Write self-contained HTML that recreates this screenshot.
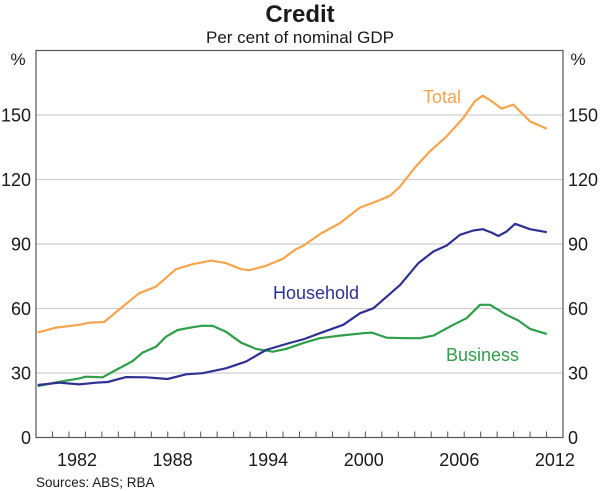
<!DOCTYPE html>
<html><head><meta charset="utf-8"><style>
body{margin:0;background:#fff;}
svg{display:block;font-family:"Liberation Sans",Arial,sans-serif;}
</style></head><body>
<svg id="chart" width="600" height="491" viewBox="0 0 600 491">
<text x="300" y="22" text-anchor="middle" font-size="24" font-weight="bold" fill="#1a1a1a">Credit</text>
<text x="300" y="43" text-anchor="middle" font-size="17" fill="#1a1a1a">Per cent of nominal GDP</text>
<g id="grid"></g>
<g id="series"></g>
<rect x="36" y="50.5" width="527" height="387" fill="none" stroke="#555" stroke-width="1.2"/>
<g id="axes"></g>
<text x="18" y="65" text-anchor="middle" font-size="17" fill="#1a1a1a">%</text>
<text x="578" y="65" text-anchor="middle" font-size="17" fill="#1a1a1a">%</text>
<text x="423" y="103" font-size="18" fill="#F7A44C">Total</text>
<text x="273" y="299" font-size="18" fill="#2E3192">Household</text>
<text x="446" y="361" font-size="18" fill="#2E9E48">Business</text>
<text x="36" y="487" font-size="13.5" fill="#1a1a1a">Sources: ABS; RBA</text>
</svg>
<script>
const yTicks=[0,30,60,90,120,150];
const xLabels=[1982,1988,1994,2000,2006,2012];
const totalYears=[1979.53,1980.68,1982.14,1982.77,1983.71,1984.87,1985.91,1986.96,1988.21,1989.26,1990.41,1991.35,1992.30,1992.82,1993.86,1994.91,1995.75,1996.27,1997.25,1998.51,1999.77,2000.81,2001.65,2002.28,2003.22,2004.16,2005.21,2006.25,2006.98,2007.47,2008.03,2008.66,2009.39,2009.81,2010.44,2011.49];
const totalVals=[48.8,51.1,52.4,53.4,53.7,60.9,67.1,70.2,78.3,80.6,82.3,81.1,78.3,77.8,79.8,83.1,87.6,89.5,94.6,99.7,107.0,109.8,112.4,116.8,125.6,133.1,140.1,148.6,156.4,159.0,156.4,153.0,154.8,151.7,147.0,143.6];
const houseYears=[1979.53,1980.89,1982.14,1983.19,1983.93,1985.08,1986.33,1987.69,1988.84,1989.89,1991.35,1992.61,1993.86,1995.12,1996.27,1997.25,1998.72,1999.77,2000.60,2001.44,2002.28,2003.43,2004.37,2005.21,2006.04,2006.88,2007.47,2008.03,2008.45,2008.97,2009.50,2010.44,2011.49];
const houseVals=[24.4,25.5,24.7,25.5,25.8,28.1,28.0,27.2,29.4,29.9,32.2,35.3,40.7,43.5,45.8,48.5,52.4,57.8,60.1,65.5,71.0,81.1,86.5,89.3,94.3,96.3,96.9,95.3,93.7,95.8,99.4,96.9,95.5];
const busYears=[1979.53,1980.89,1982.14,1982.56,1983.61,1984.45,1985.50,1986.12,1986.96,1987.59,1988.32,1989.26,1989.89,1990.52,1991.35,1992.30,1993.24,1994.29,1995.12,1996.27,1997.25,1998.51,1999.97,2000.50,2001.44,2002.70,2003.53,2004.37,2005.62,2006.46,2007.30,2007.93,2008.97,2009.70,2010.44,2011.49];
const busVals=[23.9,25.9,27.5,28.3,28.0,31.4,35.6,39.5,42.2,46.9,50.0,51.3,52.0,51.9,49.2,44.1,41.2,39.9,41.2,44.1,46.2,47.4,48.5,48.8,46.4,46.2,46.2,47.4,52.4,55.5,61.7,61.7,57.0,54.4,50.5,48.2];
const NS='http://www.w3.org/2000/svg';
function xs(t){return 77+(t-1982)*15.93;}
function ys(v){return 437.5-v*(387/180);}
function mk(tag,attrs,parent){const e=document.createElementNS(NS,tag);for(const k in attrs)e.setAttribute(k,attrs[k]);parent.appendChild(e);return e;}
const grid=document.getElementById('grid'),axes=document.getElementById('axes'),series=document.getElementById('series');
yTicks.forEach(v=>{
  if(v>0){const g=mk('line',{x1:36,x2:563,y1:ys(v),y2:ys(v),stroke:'#cfcfcf','stroke-width':1.2},grid);
  
  }
  const l=mk('text',{x:31,y:ys(v)+6.5,'text-anchor':'end','font-size':18,fill:'#1a1a1a'},axes);l.textContent=v;
  
  
  const r=mk('text',{x:568,y:ys(v)+6.5,'text-anchor':'start','font-size':18,fill:'#1a1a1a'},axes);r.textContent=v;
  
  
});
for(let i=1;i<32;i++){const x=36+i*527/32;const t=mk('line',{x1:x,x2:x,y1:437.5,y2:431.5,stroke:'#555','stroke-width':1},axes);
  
  }
xLabels.forEach(y=>{const t=mk('text',{x:xs(y),y:466,'text-anchor':'middle','font-size':18,fill:'#1a1a1a'},axes);t.textContent=y;
  
  });
function line(ys_,vs,color,name){const d=ys_.map((t,i)=>(i?'L':'M')+xs(t).toFixed(1)+' '+ys(vs[i]).toFixed(1)).join(' ');
  const p=mk('path',{d:d,fill:'none',stroke:color,'stroke-width':2.2,'stroke-linejoin':'round'},series);
  
  }
line(totalYears,totalVals,'#F7A44C','total-line');
line(busYears,busVals,'#2E9E48','business-line');
line(houseYears,houseVals,'#2E3192','household-line');
</script>
</body></html>
